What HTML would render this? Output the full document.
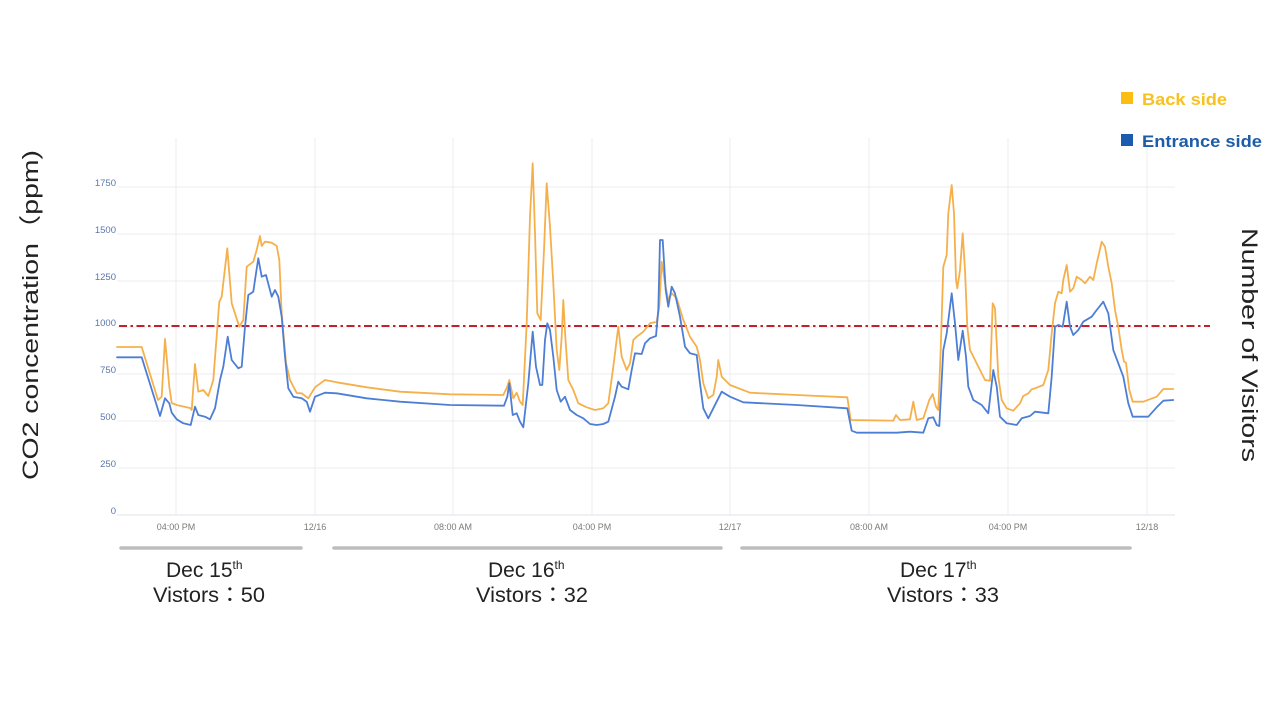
<!DOCTYPE html>
<html>
<head>
<meta charset="utf-8">
<style>
  html, body { margin: 0; padding: 0; background: #ffffff; }
  svg { display: block; }
  text { font-family: "Liberation Sans", "Noto Sans CJK JP", sans-serif; }
</style>
</head>
<body>
<svg width="1280" height="720" viewBox="0 0 1280 720" xmlns="http://www.w3.org/2000/svg">
  <rect width="1280" height="720" fill="#ffffff"/>

  <!-- vertical gridlines -->
  <g stroke="#ececf0" stroke-width="1">
    <line x1="176" y1="138" x2="176" y2="515"/>
    <line x1="315" y1="138" x2="315" y2="515"/>
    <line x1="453" y1="138" x2="453" y2="515"/>
    <line x1="592" y1="138" x2="592" y2="515"/>
    <line x1="730" y1="138" x2="730" y2="515"/>
    <line x1="869" y1="138" x2="869" y2="515"/>
    <line x1="1008" y1="138" x2="1008" y2="515"/>
    <line x1="1147" y1="138" x2="1147" y2="515"/>
  </g>
  <!-- horizontal gridlines -->
  <g stroke="#ececf0" stroke-width="1">
    <line x1="117" y1="187" x2="1175" y2="187"/>
    <line x1="117" y1="234" x2="1175" y2="234"/>
    <line x1="117" y1="281" x2="1175" y2="281"/>
    <line x1="117" y1="327" x2="1175" y2="327"/>
    <line x1="117" y1="374" x2="1175" y2="374"/>
    <line x1="117" y1="421" x2="1175" y2="421"/>
    <line x1="117" y1="468" x2="1175" y2="468"/>
  </g>
  <line x1="117" y1="515" x2="1175" y2="515" stroke="#dfe3ea" stroke-width="1"/>

  <!-- y labels -->
  <g font-size="9.5" fill="#5a76ad" text-anchor="end">
    <text x="116" y="186">1750</text>
    <text x="116" y="233">1500</text>
    <text x="116" y="280">1250</text>
    <text x="116" y="326">1000</text>
    <text x="116" y="373">750</text>
    <text x="116" y="420">500</text>
    <text x="116" y="467">250</text>
    <text x="116" y="514">0</text>
  </g>

  <!-- x labels -->
  <g font-size="9" fill="#7a7a7a" text-anchor="middle">
    <text x="176" y="530">04:00 PM</text>
    <text x="315" y="530">12/16</text>
    <text x="453" y="530">08:00 AM</text>
    <text x="592" y="530">04:00 PM</text>
    <text x="730" y="530">12/17</text>
    <text x="869" y="530">08:00 AM</text>
    <text x="1008" y="530">04:00 PM</text>
    <text x="1147" y="530">12/18</text>
  </g>

  <!-- threshold line -->
  <line x1="119" y1="326" x2="1210" y2="326" stroke="#c3202e" stroke-width="2" stroke-dasharray="8 3.5 2.5 3.5"/>

  <!-- Back side (orange) -->
  <polyline fill="none" stroke="#f5b04c" stroke-width="1.8" stroke-linejoin="round" stroke-linecap="round"
    points="117,347 141.7,347 158,400 161.7,396.7 165,339 169.3,386.7 171.7,403 176.7,405 190,408 191.7,410 195,364 198.3,391.7 203.3,390 208.3,396 213.3,380 219.3,301.7 221.7,296.7 227.3,248.3 231.7,303.3 239.3,326.7 243.3,320 246.7,266.7 253.3,261.7 256.7,250 260,236 261.7,246 265,241.7 271.7,242.7 276.7,246 279.3,260 281.7,313.3 286,363 290,380 296.7,393 301.7,393.3 308.3,398.3 315,387.3 325,380 336.7,382.3 366.7,387.3 400,391.7 450,394.3 503.3,395 507.3,386.7 509.3,380 513.3,398.3 516.7,392.7 520,401.7 522.7,405 526.7,323.3 530,216.7 532.7,163.3 535,233.3 537.3,313.3 540.7,320 544,250 546.7,183.3 550,226.7 553.3,283.3 556.7,350 559.3,370 561.7,336.7 563.3,300 565.3,336.7 568.3,380 573.3,390 578.3,403.3 586.7,407.3 595,410 603.3,408.3 608.3,403.3 613.3,366.7 618.3,326.7 621.7,356.7 626.7,370 630,363.3 633.3,340 636.7,336.7 643.3,331.7 650,323.3 656.7,321.7 659.3,306.7 661.7,261.7 665,283.3 668.3,300 671.7,293.3 676.7,298.3 683.3,320 690,336.7 696.7,346.7 700,360 703.3,383.3 708.3,398.3 713.3,395 716.7,376.7 718.3,360 721.7,376.7 730,385 750,392.7 796.7,395 847.3,397.3 850.7,420 893.3,420.7 896,415 900,420 910,419.3 913.3,401.7 916.7,420 923.3,418.3 929.3,400 932.7,394 936,406.7 938.3,410 940.7,350 943.3,266.7 946.7,255 948.3,213.3 951.7,185 954,213.3 956,280 957.3,288.3 960,270 962.7,233.3 965,270 967.3,326.7 970,350 975,360 980,370 985,380 990,380.7 992.7,303.3 995,308.3 998.3,376.7 1001.7,400 1006.7,408.3 1013.3,410.7 1020,403.3 1023.3,396 1028.3,393.3 1031.7,389.3 1035,388.3 1043.3,385 1048.3,370 1051.7,333.3 1055,303.3 1058.3,291.7 1061.7,293.3 1063.3,280 1066.7,265 1070,291.7 1073.3,288.3 1076.7,276.7 1081.7,280 1085,283.3 1090,276.7 1093.3,280 1096.7,263.3 1101.7,241.7 1105,246.7 1108.3,266.7 1111.7,283.3 1115,310 1118.3,326.7 1121.7,350 1124,361.7 1126,362.7 1129.3,390 1132.7,401.7 1143.3,401.7 1156.7,396.7 1163.3,389 1173.3,389"/>

  <!-- Entrance side (blue) -->
  <polyline fill="none" stroke="#4d7ed6" stroke-width="1.8" stroke-linejoin="round" stroke-linecap="round"
    points="117,357.3 141.7,357.3 160,416 165,398.3 169.3,403.3 171.7,412.7 176.7,419.3 183.3,423.3 190.7,425 195,406.7 198.3,415 205,416.7 210,419.3 215,408.3 220,380 223.3,366.7 227.7,336.7 231.7,360 238.3,368.3 241.7,366.7 245,326.7 248.3,295 253.3,291.7 255,280 258.3,258.3 261.7,276.7 266,275 271.7,296.7 275,290 278.3,296.7 281.7,316.7 285,356.7 288.3,388.3 293.3,396.7 301.7,398.3 306.7,401.7 310,411.7 315,396.7 325,392.7 336.7,393.3 366.7,398.3 400,401.7 450,405 504,405.7 507.3,396.7 509.3,383.3 512.7,415 516.7,413.3 520,421.7 523.3,427.3 528.3,383.3 532.7,331.7 536,366.7 540,385 542.3,385 545,340 547.3,323.3 550,330 553.3,356.7 556.7,390 560.7,401.7 565,396.7 570,410 576.7,415 583.3,418.3 590,424 596.7,425 603.3,424 608.3,421.7 615,396.7 618.3,381.7 621.7,386.7 628.3,389.3 631.7,370 635,353.3 641.7,354 645,343.3 650,338.3 656,336 658.3,310 660,240 662.7,240 665.7,290 668.3,306.7 671.7,286.7 675,293.3 680,316.7 685,346.7 690,353.3 696.7,355 700,383.3 703.3,408.3 708.3,418.3 713.3,408.3 721.7,391.7 730,396.7 743.3,402.3 796.7,405 847.3,408.3 851.7,430.7 856.7,432.7 896.7,432.7 910,431.7 923.3,432.7 928.3,418.3 933.3,417.3 936.7,425 939.3,426 943.3,350 946.7,333.3 951.7,293.3 955,323.3 958.3,360 962.7,330.7 966,356.7 968.3,386.7 973.3,400 981.7,405 988.3,413.3 993.3,370 996.7,386.7 1000,416.7 1006.7,423.3 1016.7,425 1021.7,418.3 1030,416 1035,411.7 1048.3,413.3 1051.7,376.7 1055,326.7 1058.3,325 1062.7,326.7 1066.7,301.7 1070,326.7 1073.3,335 1078.3,330 1083.3,321.7 1091.7,316.7 1096.7,310 1103.3,301.7 1108.3,313.3 1113.3,350 1118.3,363.3 1123.3,376.7 1128.3,403.3 1132.7,416.7 1148.3,416.7 1156.7,407.3 1163.3,400.7 1173.3,400"/>

  <!-- legend -->
  <rect x="1121" y="92" width="12" height="12" fill="#fbbd12"/>
  <text x="1142" y="105" font-size="17" font-weight="bold" fill="#f7c11e" textLength="85" lengthAdjust="spacingAndGlyphs">Back side</text>
  <rect x="1121" y="134" width="12" height="12" fill="#1a5bb0"/>
  <text x="1142" y="147" font-size="17" font-weight="bold" fill="#1d5ca8" textLength="120" lengthAdjust="spacingAndGlyphs">Entrance side</text>

  <!-- axis titles -->
  <text transform="translate(38,315) rotate(-90)" text-anchor="middle" font-size="22" fill="#222" textLength="330" lengthAdjust="spacingAndGlyphs">CO2 concentration（ppm)</text>
  <text transform="translate(1242,345) rotate(90)" text-anchor="middle" font-size="22" fill="#222" textLength="234" lengthAdjust="spacingAndGlyphs">Number of Visitors</text>

  <!-- day bars -->
  <g stroke="#bdbdbd" stroke-width="3.5" stroke-linecap="round">
    <line x1="121" y1="548" x2="301" y2="548"/>
    <line x1="334" y1="548" x2="721" y2="548"/>
    <line x1="742" y1="548" x2="1130" y2="548"/>
  </g>

  <!-- day annotations -->
  <g font-size="21" fill="#222">
    <text x="166" y="577">Dec 15<tspan font-size="12" dy="-8">th</tspan></text>
    <text x="209" y="602" text-anchor="middle" textLength="112" lengthAdjust="spacingAndGlyphs">Vistors：50</text>
    <text x="488" y="577">Dec 16<tspan font-size="12" dy="-8">th</tspan></text>
    <text x="532" y="602" text-anchor="middle" textLength="112" lengthAdjust="spacingAndGlyphs">Vistors：32</text>
    <text x="900" y="577">Dec 17<tspan font-size="12" dy="-8">th</tspan></text>
    <text x="943" y="602" text-anchor="middle" textLength="112" lengthAdjust="spacingAndGlyphs">Vistors：33</text>
  </g>
</svg>
</body>
</html>
